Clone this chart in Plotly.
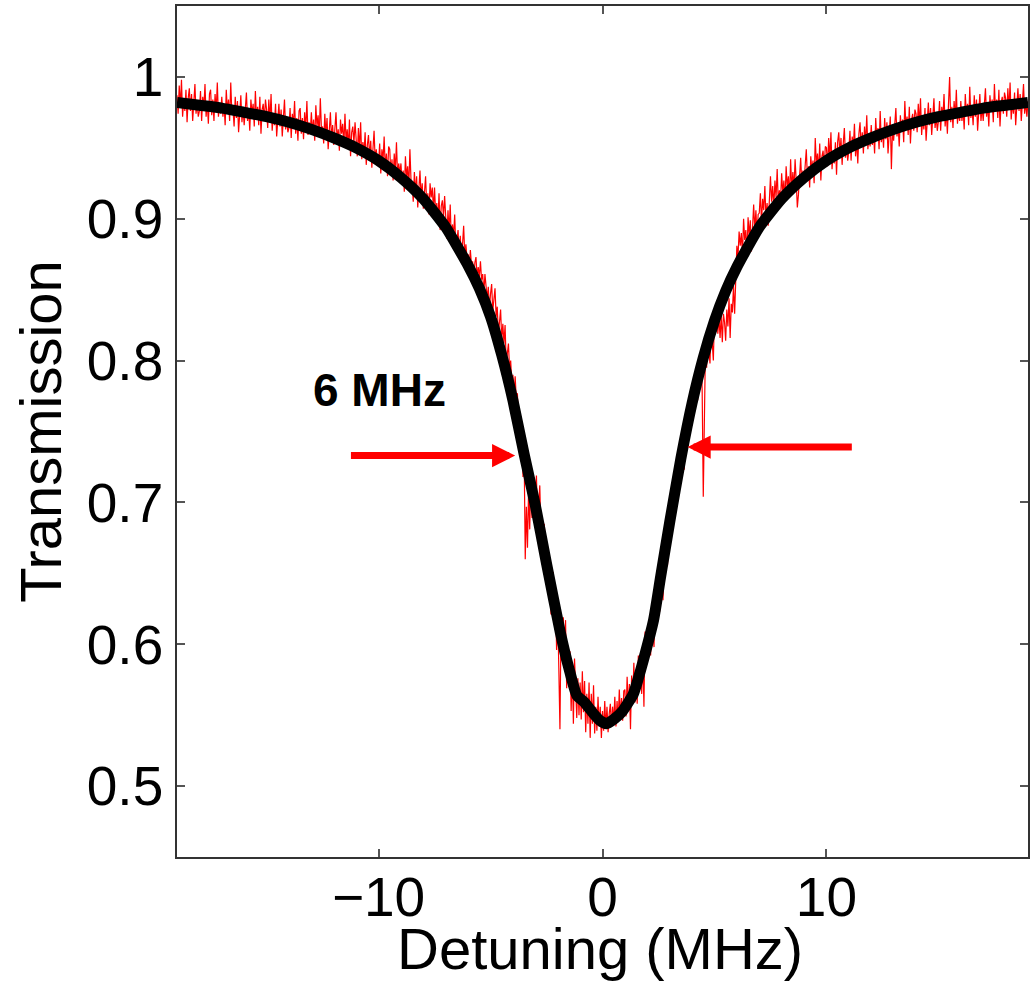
import numpy as np
import plotly.graph_objects as go

# ---- data ----
# noisy measured transmission, sampled every 0.05 MHz from -19 to 19
data_x_start = -19.0
data_x_step = 0.05
data_y = [
    # -19
    .987,.974,.994,.979,.998,.972,.984,.976,.991,.968, .985,.992,.976,.988,.969,.984,.995,.974,.982,.972,
    # -18
    .976,.990,.969,.986,.978,.995,.972,.983,.967,.988, .991,.973,.984,.969,.988,.976,.996,.972,.981,.974,
    # -17
    .986,.972,.981,.966,.991,.976,.984,.969,.996,.974, .977,.965,.986,.971,.983,.961,.980,.987,.968,.978,
    # -16
    .966,.979,.989,.969,.977,.962,.984,.974,.981,.965, .990,.971,.979,.966,.986,.960,.977,.981,.969,.984,
    # -15
    .977,.964,.984,.969,.988,.962,.974,.966,.981,.958, .974,.981,.965,.977,.958,.973,.984,.963,.971,.961,
    # -14
    .964,.978,.957,.974,.966,.983,.960,.971,.955,.976, .978,.960,.971,.956,.975,.963,.983,.959,.968,.961,
    # -13
    .975,.961,.970,.955,.980,.965,.973,.958,.985,.963, .965,.953,.974,.959,.971,.949,.968,.975,.956,.966,
    # -12
    .952,.965,.975,.955,.963,.948,.970,.960,.967,.951, .974,.955,.963,.950,.970,.944,.961,.965,.953,.968,
    # -11
    .957,.944,.964,.949,.968,.942,.954,.946,.961,.938, .952,.959,.943,.955,.936,.951,.962,.941,.949,.939,
    # -10
    .939,.953,.932,.949,.941,.958,.935,.946,.930,.951, .949,.931,.942,.927,.946,.934,.954,.930,.939,.932,
    # -9
    .939,.925,.934,.919,.944,.929,.937,.922,.949,.927, .924,.912,.933,.918,.930,.908,.927,.934,.915,.925,
    # -8
    .907,.920,.930,.910,.918,.903,.925,.915,.922,.906, .922,.903,.911,.898,.918,.892,.909,.913,.901,.916,
    # -7
    .899,.886,.906,.891,.910,.884,.896,.888,.903,.880, .885,.892,.876,.888,.869,.884,.895,.874,.882,.872,
    # -6
    .875,.867,.878,.867,.870,.855,.869,.873,.859,.866, .859,.870,.857,.861,.847,.861,.852,.844,.852,.837,
    # -5
    .847,.854,.835,.844,.851,.831,.838,.818,.828,.836, .815,.826,.812,.825,.798,.808,.812,.794,.800,.784,
    # -4
    .790,.776,.789,.773,.777,.757,.764,.740,.752,.718, .736,.660,.697,.668,.710,.681,.717,.689,.717,.694,
    # -3
    .708,.719,.685,.704,.712,.680,.688,.657,.685,.669, .651,.667,.634,.655,.621,.642,.651,.619,.637,.596,
    # -2
    .622,.583,.540,.618,.588,.619,.588,.617,.569,.595, .570,.595,.553,.584,.544,.590,.565,.548,.576,.550,
    # -1
    .573,.547,.581,.552,.574,.538,.565,.544,.573,.534, .565,.544,.571,.537,.556,.539,.563,.542,.556,.534,
    # 0
    .553,.539,.560,.541,.556,.538,.551,.558,.542,.556, .545,.563,.542,.560,.545,.568,.549,.562,.546,.567,
    # 1
    .568,.549,.577,.555,.572,.540,.578,.560,.587,.559, .578,.558,.592,.569,.594,.565,.593,.556,.609,.585,
    # 2
    .605,.589,.618,.592,.623,.607,.598,.633,.613,.626, .642,.623,.637,.660,.631,.656,.651,.680,.655,.673,
    # 3
    .676,.695,.679,.709,.699,.689,.721,.706,.727,.710, .739,.727,.753,.723,.752,.745,.766,.745,.769,.756,
    # 4
    .777,.765,.790,.775,.792,.772,.793,.781,.806,.779, .704,.755,.813,.795,.822,.807,.798,.825,.811,.800,
    # 5
    .833,.820,.840,.819,.831,.816,.832,.813,.833,.827, .814,.836,.824,.844,.816,.840,.834,.853,.833,.852,
    # 6
    .881,.873,.891,.881,.890,.874,.900,.885,.892,.875, .901,.888,.899,.877,.898,.910,.892,.906,.888,.903,
    # 7
    .904,.918,.897,.914,.906,.923,.900,.911,.895,.916, .930,.912,.923,.908,.927,.915,.935,.911,.920,.913,
    # 8
    .932,.918,.927,.912,.937,.922,.930,.915,.942,.920, .933,.921,.942,.927,.908,.917,.936,.943,.924,.934,
    # 9
    .926,.939,.949,.929,.937,.922,.944,.934,.941,.925, .957,.938,.946,.933,.953,.927,.944,.948,.936,.951,
    # 10
    .950,.937,.957,.942,.961,.935,.947,.939,.954,.931, .954,.961,.945,.957,.938,.953,.964,.943,.951,.941,
    # 11
    .948,.962,.941,.958,.950,.967,.944,.955,.939,.960, .968,.950,.961,.946,.965,.953,.973,.949,.958,.951,
    # 12
    .966,.952,.961,.946,.971,.956,.964,.949,.976,.954, .962,.950,.971,.956,.968,.946,.965,.972,.935,.963,
    # 13
    .955,.968,.978,.958,.966,.951,.973,.963,.970,.954, .983,.964,.972,.959,.979,.953,.970,.974,.962,.977,
    # 14
    .974,.961,.981,.966,.985,.959,.971,.963,.978,.955, .975,.982,.966,.978,.959,.974,.985,.964,.972,.962,
    # 15
    .969,.983,.962,.979,.971,.988,.965,.976,.960,.981, 1.000,.968,.979,.964,.983,.971,.991,.967,.976,.969,
    # 16
    .983,.969,.978,.963,.988,.973,.981,.966,.993,.971, .978,.966,.987,.972,.984,.962,.981,.988,.969,.979,
    # 17
    .969,.982,.992,.972,.980,.965,.987,.977,.984,.968, .995,.976,.984,.971,.991,.965,.982,.986,.974,.989,
    # 18
    .985,.972,.992,.977,.996,.970,.982,.974,.989,.966, .985,.992,.976,.988,.969,.984,.995,.974,.982,.972,
    # 19
    .983,
]
data_x = np.round(data_x_start + data_x_step * np.arange(len(data_y)), 3)

# fitted curve (black), read point by point
fit_x = [-19, -18, -17, -16, -15, -14, -13, -12, -11, -10, -9, -8, -7, -6, -5.5, -5,
         -4.5, -4, -3.5, -3, -2.5, -1.88, -1.5, -1.15, -0.8, -0.4, -0.1, 0.18, 0.5,
         0.9, 1.38, 1.6, 1.83, 2.28, 2.6, 3.0, 3.5, 4, 4.5, 5, 5.5, 6, 7, 8, 9, 10,
         11, 12, 13, 14, 15, 16, 17, 18, 19]
fit_y = [0.982, 0.980, 0.978, 0.975, 0.972, 0.968, 0.963, 0.957, 0.950, 0.941, 0.929,
         0.914, 0.894, 0.867, 0.851, 0.831, 0.804, 0.772, 0.734, 0.698, 0.657, 0.608,
         0.583, 0.564, 0.559, 0.551, 0.546, 0.544, 0.547, 0.553, 0.565, 0.576, 0.589,
         0.617, 0.648, 0.686, 0.731, 0.770, 0.802, 0.828, 0.849, 0.866, 0.894, 0.914,
         0.929, 0.941, 0.950, 0.957, 0.963, 0.968, 0.972, 0.975, 0.978, 0.980, 0.982]

# width annotation
label_text = "<b>6 MHz</b>"
label_pos = (-9.96, 0.779)
arrow_tails = [(-11.3, 0.733), (11.2, 0.739)]
arrow_heads = [(-3.9, 0.733), (3.8, 0.739)]

x_ticks = [-10, 0, 10]
x_tick_text = ["\u221210", "0", "10"]
y_ticks = [0.5, 0.6, 0.7, 0.8, 0.9, 1.0]
y_tick_text = ["0.5", "0.6", "0.7", "0.8", "0.9", "1"]
x_title = "Detuning (MHz)"
y_title = "Transmission"

FONT = "Liberation Sans, Arial, Helvetica, sans-serif"

fig = go.Figure()
fig.add_trace(go.Scatter(x=data_x, y=data_y, mode="lines",
                         line=dict(color="#ff0000", width=1.2), hoverinfo="skip",
                         showlegend=False))
fig.add_trace(go.Scatter(x=fit_x, y=fit_y, mode="lines",
                         line=dict(color="#000000", width=11, shape="spline", smoothing=0.5),
                         showlegend=False))

for (tx, ty), (hx, hy) in zip(arrow_tails, arrow_heads):
    fig.add_annotation(x=hx, y=hy, ax=tx, ay=ty, xref="x", yref="y", axref="x", ayref="y",
                       text="", showarrow=True, arrowhead=2, arrowsize=0.66,
                       arrowwidth=7, arrowcolor="#ff0000")

fig.add_annotation(x=label_pos[0], y=label_pos[1], xref="x", yref="y",
                   text=label_text, showarrow=False,
                   font=dict(family=FONT, size=46, color="#000000"))

# x-axis title, placed just under the tick labels
fig.add_annotation(x=0.4975, y=-0.107, xref="paper", yref="paper",
                   xanchor="center", yanchor="middle", text=x_title, showarrow=False,
                   font=dict(family=FONT, size=58, color="#000000"))

axis_common = dict(
    showgrid=False, zeroline=False, showline=True, linecolor="#333333", linewidth=1.5,
    mirror="ticks", ticks="inside", ticklen=8, tickwidth=1.5, tickcolor="#555555",
    tickfont=dict(family=FONT, size=55, color="#000000"), automargin=False,
)

fig.update_layout(
    width=1032, height=985,
    margin=dict(l=177, r=4, t=6, b=128, pad=0),
    paper_bgcolor="white", plot_bgcolor="white",
    xaxis=dict(range=[-19, 19], tickvals=x_ticks, ticktext=x_tick_text,
               ticklabelstandoff=-9, **axis_common),
    yaxis=dict(range=[0.45, 1.05], tickvals=y_ticks, ticktext=y_tick_text,
               title=dict(text=y_title, font=dict(family=FONT, size=58, color="#000000"),
                          standoff=6),
               ticklabelstandoff=1, **axis_common),
)

fig.write_html("out.html")
